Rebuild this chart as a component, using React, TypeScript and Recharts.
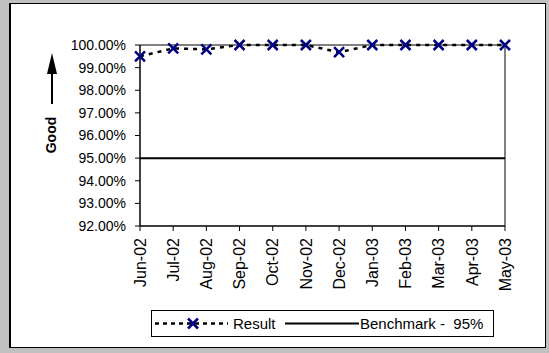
import { LineChart, Line, XAxis, YAxis, ReferenceLine } from "recharts";

const months = [
  "Jun-02", "Jul-02", "Aug-02", "Sep-02", "Oct-02", "Nov-02",
  "Dec-02", "Jan-03", "Feb-03", "Mar-03", "Apr-03", "May-03",
];
const result = [99.5, 99.85, 99.81, 100, 100, 100, 99.68, 100, 100, 100, 100, 100];
const benchmark = [95, 95, 95, 95, 95, 95, 95, 95, 95, 95, 95, 95];
const yTicks = [92, 93, 94, 95, 96, 97, 98, 99, 100];

const FONT = "Arial, 'Liberation Sans', sans-serif";
const NAVY = "#000080";

const data = months.map((m, i) => ({ month: m, result: result[i], bench: benchmark[i] }));

function XMark({ cx, cy }: any) {
  if (cx == null || cy == null) return null;
  const s = 5;
  return (
    <path
      d={`M${cx - s},${cy - s}L${cx + s},${cy + s}M${cx + s},${cy - s}L${cx - s},${cy + s}`}
      stroke={NAVY}
      strokeWidth={2.5}
      fill="none"
    />
  );
}

function MonthTick({ x, y, payload }: any) {
  return (
    <g transform={`translate(${x},${y})`}>
      <text
        transform="rotate(-90)"
        x={-5}
        y={0}
        dy="0.36em"
        textAnchor="end"
        fontSize={16}
        fontFamily={FONT}
        fill="#000"
      >
        {payload.value}
      </text>
    </g>
  );
}

function GoodLabel() {
  return (
    <g>
      <polygon points="52,53 47,74 57,74" fill="#000" />
      <line x1={52} y1={72} x2={52} y2={104} stroke="#000" strokeWidth={2} />
      <text
        transform="translate(51,135) rotate(-90)"
        textAnchor="middle"
        dy="0.36em"
        fontSize={14}
        fontWeight="bold"
        fontFamily={FONT}
        fill="#000"
      >
        Good
      </text>
    </g>
  );
}

function LegendBox() {
  return (
    <svg
      width={343}
      height={27}
      style={{ position: "absolute", left: 151, top: 310 }}
    >
      <rect x={0.5} y={0.5} width={342} height={26} fill="#fff" stroke="#000" />
      <line x1={4} y1={13.5} x2={77} y2={13.5} stroke="#000" strokeWidth={2.5} strokeDasharray="4 4" />
      <XMark cx={42} cy={13.5} />
      <text x={82} y={19} fontSize={15} fontFamily={FONT} fill="#000">
        Result
      </text>
      <line x1={134} y1={13.5} x2={208} y2={13.5} stroke="#000" strokeWidth={2} />
      <text x={209} y={19} fontSize={15} fontFamily={FONT} fill="#000" style={{ whiteSpace: "pre" }}>
        {"Benchmark -  95%"}
      </text>
    </svg>
  );
}

export default function App() {
  return (
    <div
      style={{
        position: "absolute",
        left: 0,
        top: 0,
        width: 549,
        height: 353,
        background: "#c0c0c0",
      }}
    >
      <div
        style={{
          position: "absolute",
          left: 9,
          top: 3,
          width: 537,
          height: 345,
          boxSizing: "border-box",
          border: "1px solid #000",
          borderLeftWidth: 2,
          background: "#fff",
        }}
      />
      <div style={{ position: "absolute", left: 0, top: 0 }}>
        <LineChart
          width={549}
          height={353}
          data={data}
          margin={{ top: 45, right: 44, left: 60, bottom: 57 }}
        >
          <XAxis
            dataKey="month"
            interval={0}
            height={70}
            tickSize={5}
            tickMargin={2}
            axisLine={{ stroke: "#000", strokeWidth: 1.5 }}
            tickLine={{ stroke: "#000" }}
            tick={<MonthTick />}
          />
          <YAxis
            type="number"
            domain={[92, 100]}
            ticks={yTicks}
            width={80}
            tickSize={5}
            tickMargin={9}
            tickFormatter={(v: number) => `${v.toFixed(2)}%`}
            tick={{ fontSize: 14, fill: "#000", fontFamily: FONT }}
            axisLine={{ stroke: "#000", strokeWidth: 1.5 }}
            tickLine={{ stroke: "#000" }}
            label={{ content: <GoodLabel /> }}
          />
          <ReferenceLine y={100} stroke="#808080" strokeWidth={2} />
          <ReferenceLine x="May-03" stroke="#808080" strokeWidth={2} />
          <Line
            dataKey="bench"
            stroke="#000"
            strokeWidth={2}
            dot={false}
            isAnimationActive={false}
          />
          <Line
            dataKey="result"
            stroke="#000"
            strokeWidth={2.5}
            strokeDasharray="4 5"
            dot={<XMark />}
            activeDot={false}
            isAnimationActive={false}
          />
        </LineChart>
      </div>
      <LegendBox />
    </div>
  );
}
